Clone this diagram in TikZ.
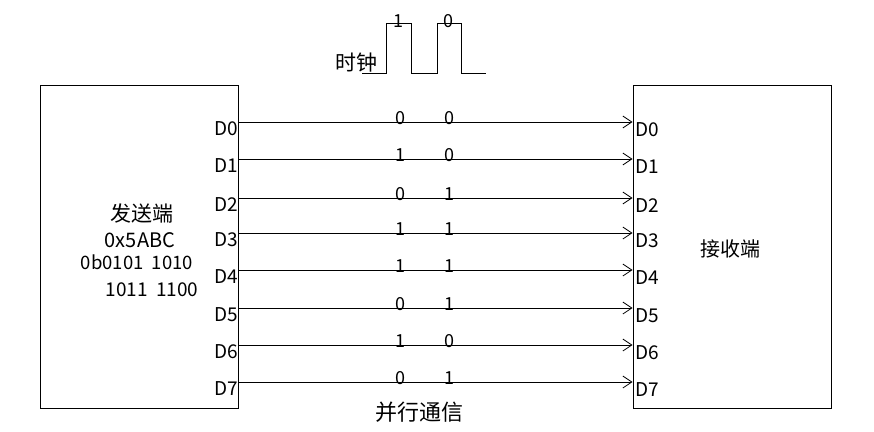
\documentclass[tikz,border=0pt]{standalone}
\usepackage{fontspec}
\setmainfont{Noto Sans CJK SC}
\usetikzlibrary{arrows.meta,positioning}

\newcommand{\fsize}[1]{\fontsize{#1}{#1}\selectfont}

\begin{document}
\begin{tikzpicture}[x=1pt,y=-1pt,
    box/.style={draw, line width=0.9pt, minimum width=198pt, minimum height=323pt, inner sep=0pt},
    txt/.style={anchor=base, inner sep=0pt},
    pinlabel/.style={font=\fsize{19}, inner sep=0pt},
    bitlabel/.style={font=\fsize{18}, anchor=base, inner sep=0pt},
    wire/.style={line width=0.8pt, -{Straight Barb[length=9pt,width=12pt,line width=0.8pt]}}]
    \useasboundingbox (0,0) rectangle (874,431);

    % Draw sender and receiver
    \node[box] (sender) at (139.5,247) {};
    \node[box] (receiver) at (732,247) {};

    % Label boxes
    \node[txt, font=\fsize{21}] (sendname) at (142,221) {发送端};
    \node[txt, font=\fsize{20}] (hexval) at (140,247) {0x5ABC};
    \node[txt, font=\fsize{18.5}] (binhi) at (137,269) {0b0101\ \ 1010};
    \node[txt, font=\fsize{19}] (binlo) at (152,296) {1011\ \ 1100};
    \node[txt, font=\fsize{20}] (recvname) at (730,256) {接收端};

    % Draw clock
    \draw[line width=0.8pt] (362,73) -- (386,73) -- (386,23) -- (411,23) -- (411,73)
        -- (437,73) -- (437,23) -- (461,23) -- (461,73) -- (486,73);
    \node[bitlabel] (clkone) at (398,27) {1};
    \node[bitlabel] (clkzero) at (448,27) {0};
    \node[txt, font=\fsize{21}] (clkname) at (356,70) {时钟};

    % Draw data lines and bits
    \foreach \i/\y/\a/\b in {0/122/0/0, 1/159/1/0, 2/198/0/1, 3/233/1/1,
                             4/270/1/1, 5/308/0/1, 6/345/1/0, 7/382/0/1} {
        \coordinate (s\i) at (sender.east |- 0,\y);
        \coordinate (r\i) at (receiver.west |- 0,\y);
        \draw[wire] (s\i) -- (r\i);
        \node[pinlabel, anchor=base east] (sl\i) at ([xshift=-1pt, yshift=-13pt]s\i) {D\i};
        \node[pinlabel, anchor=base west] (rl\i) at ([xshift=3pt, yshift=-14pt]r\i) {D\i};
        \node[bitlabel] (ba\i) at (400,\y+2) {\a};
        \node[bitlabel] (bb\i) at (449,\y+2) {\b};
    }

    % Caption
    \node[txt, font=\fsize{22}] (caption) at (419,420) {并行通信};
\end{tikzpicture}
\end{document}
